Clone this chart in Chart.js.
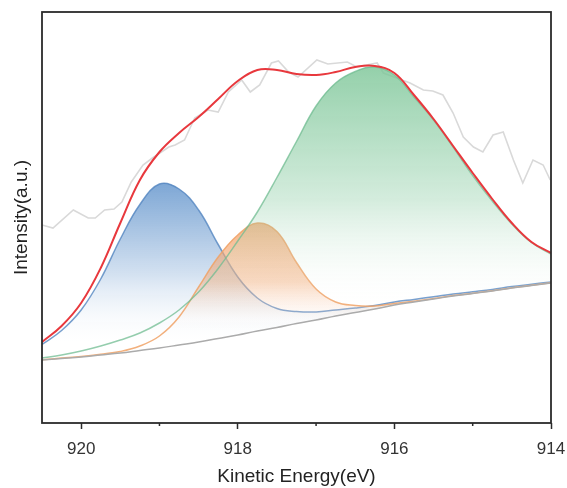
<!DOCTYPE html>
<html>
<head>
<meta charset="utf-8">
<script src="https://cdn.jsdelivr.net/npm/chart.js@4.4.1/dist/chart.umd.min.js"></script>
<style>
  html, body { margin: 0; padding: 0; background: #fff; }
  #wrap { width: 567px; height: 488px; }
</style>
</head>
<body>
<div id="wrap"><canvas id="xpsChart"></canvas></div>
<script>
// fit grid (kinetic energy, eV)
const energy = [920.5, 920.25, 920, 919.75, 919.5, 919.25, 919, 918.75, 918.5, 918.25, 918, 917.75, 917.5,
    917.25, 917, 916.75, 916.5, 916.25, 916, 915.75, 915.5, 915.25, 915, 914.75, 914.5, 914.25, 914];

const background = [63, 64.5, 66, 68, 70, 72.5, 75, 78, 81, 84.5, 88, 92, 95.5,
    99.5, 103, 107, 110.5, 114, 118, 121, 124, 127, 129.5, 132, 135, 137.5, 140];

const peakBlue = [78.5, 92.5, 113, 144, 184, 218.5, 239, 234, 213, 178.5, 146, 125, 114.5,
    111.5, 111, 113, 115, 117.5, 121, 123.6, 126.2, 129, 131.2, 133.5, 136.4, 138.7, 141.1];

const peakOrange = [63.3, 64.9, 66.5, 68.7, 71.5, 77, 87, 106, 136, 166, 188, 200, 191.5,
    160.5, 134, 121, 117.5, 117, 119.5, 121.8, 124.5, 127.4, 129.8, 132.3, 135.2, 137.7, 140.2];

const peakGreen = [65, 68, 72, 77, 83, 90, 100, 113, 131, 154.5, 182, 211, 245.5,
    281.5, 317, 340, 351.5, 356, 348, 326, 303, 276, 247.5, 222, 199, 180.5, 169];

const envelope = [81, 97, 120, 155, 200, 243, 271, 290, 306, 324, 342, 353, 353,
    349, 348, 351, 356, 357, 350, 328, 304, 277, 250, 224, 200, 181, 170];

// measured spectrum
const rawEnergy = [920.5, 920.36, 920.1, 919.91, 919.82, 919.7, 919.58, 919.48, 919.36, 919.21, 919.09,
    918.88, 918.8, 918.68, 918.55, 918.38, 918.25, 918.12, 917.95, 917.84, 917.72, 917.57, 917.48, 917.35,
    917.23, 916.99, 916.85, 916.6, 916.48, 916.22, 916.14, 915.97, 915.8, 915.63, 915.51, 915.38, 915.25,
    915.12, 914.99, 914.87, 914.74, 914.61, 914.48, 914.36, 914.23, 914.1, 914.01];
const rawIntensity = [198, 195, 213, 205, 205, 213, 214, 221, 241, 258, 265, 276, 278, 283, 305, 313, 311,
    331, 343, 331, 338, 360, 362, 351, 346, 363, 359, 361, 356, 360, 350, 345, 340, 333, 332, 328, 310,
    286, 276, 271, 288, 291, 263, 240, 263, 258, 243];

const majorTicks = [920, 918, 916, 914];
const minorTicks = [919, 917, 915];

const toXY = (arr) => energy.map((e, i) => ({ x: e, y: arr[i] }));

function fade(rgb, arr, mid) {
    return function (context) {
        const chart = context.chart;
        const area = chart.chartArea;
        if (!area) return 'rgba(' + rgb + ',0.5)';
        const y = chart.scales.y;
        let k = 0;
        arr.forEach((v, i) => { if (v - background[i] > arr[k] - background[k]) k = i; });
        const top = y.getPixelForValue(arr[k]);
        const bottom = y.getPixelForValue(background[k]);
        const g = chart.ctx.createLinearGradient(0, top, 0, bottom);
        g.addColorStop(0, 'rgba(' + rgb + ',0.82)');
        g.addColorStop(0.55, 'rgba(' + rgb + ',' + mid + ')');
        g.addColorStop(1, 'rgba(255,255,255,0)');
        return g;
    };
}

const framePlugin = {
    id: 'frame',
    afterDraw(chart) {
        const { ctx, chartArea: a, scales } = chart;
        ctx.save();
        ctx.strokeStyle = '#2b2b2b';
        ctx.lineWidth = 1.8;
        ctx.strokeRect(a.left, a.top, a.right - a.left, a.bottom - a.top);
        // short minor ticks
        ctx.lineWidth = 1.5;
        minorTicks.forEach(v => {
            const px = scales.x.getPixelForValue(v);
            ctx.beginPath();
            ctx.moveTo(px, a.bottom);
            ctx.lineTo(px, a.bottom + 3);
            ctx.stroke();
        });
        ctx.restore();
    }
};

const lineBase = { pointRadius: 0, tension: 0.4, parsing: false };

new Chart(document.getElementById('xpsChart'), {
    type: 'line',
    data: {
        datasets: [
            Object.assign({ label: 'Background', data: toXY(background), borderColor: '#ababab',
                borderWidth: 1.5, fill: false, order: 1 }, lineBase),
            Object.assign({ label: 'Peak 1', data: toXY(peakBlue), borderColor: 'rgba(84,134,192,0.8)',
                borderWidth: 1.5, fill: 0, backgroundColor: fade('98,148,204', peakBlue, 0.28), order: 4 }, lineBase),
            Object.assign({ label: 'Peak 2', data: toXY(peakOrange), borderColor: 'rgba(240,162,102,0.85)',
                borderWidth: 1.5, fill: 0, backgroundColor: fade('244,166,112', peakOrange, 0.45), order: 3 }, lineBase),
            Object.assign({ label: 'Peak 3', data: toXY(peakGreen), borderColor: 'rgba(112,188,145,0.75)',
                borderWidth: 1.5, fill: 0, backgroundColor: fade('125,198,152', peakGreen, 0.33), order: 2 }, lineBase),
            Object.assign({ label: 'Envelope', data: toXY(envelope), borderColor: '#e8383d',
                borderWidth: 2, fill: false, order: 0 }, lineBase),
            { label: 'Raw', data: rawEnergy.map((e, i) => ({ x: e, y: rawIntensity[i] })), parsing: false,
                borderColor: '#d9d9d9', borderWidth: 1.6, pointRadius: 0, tension: 0, fill: false, order: 5 }
        ]
    },
    options: {
        responsive: true,
        maintainAspectRatio: false,
        animation: false,
        layout: { padding: { top: 12, right: 16, left: 0, bottom: 0 } },
        plugins: { legend: { display: false }, tooltip: { enabled: false } },
        scales: {
            x: {
                type: 'linear',
                reverse: true,
                min: 914,
                max: 920.5,
                afterBuildTicks: (scale) => { scale.ticks = majorTicks.map(v => ({ value: v })); },
                afterFit: (scale) => { scale.height = 65; scale.paddingLeft = 0; scale.paddingRight = 0; },
                ticks: {
                    autoSkip: false,
                    padding: 10,
                    color: '#333',
                    font: { family: 'Liberation Sans, Arial, sans-serif', size: 17 }
                },
                grid: { drawOnChartArea: false, drawTicks: true, tickLength: 6, tickColor: '#2b2b2b', tickWidth: 1.5 },
                border: { display: false },
                title: {
                    display: true,
                    text: 'Kinetic Energy(eV)',
                    color: '#222',
                    padding: { top: 0, bottom: 0 },
                    font: { family: 'Liberation Sans, Arial, sans-serif', size: 19 }
                }
            },
            y: {
                min: 0,
                max: 411,
                afterFit: (scale) => { scale.width = 42; },
                ticks: { display: false },
                grid: { display: false },
                border: { display: false },
                title: {
                    display: true,
                    text: 'Intensity(a.u.)',
                    color: '#222',
                    padding: { top: 10, bottom: 0 },
                    font: { family: 'Liberation Sans, Arial, sans-serif', size: 19 }
                }
            }
        }
    },
    plugins: [framePlugin]
});
</script>
</body>
</html>
